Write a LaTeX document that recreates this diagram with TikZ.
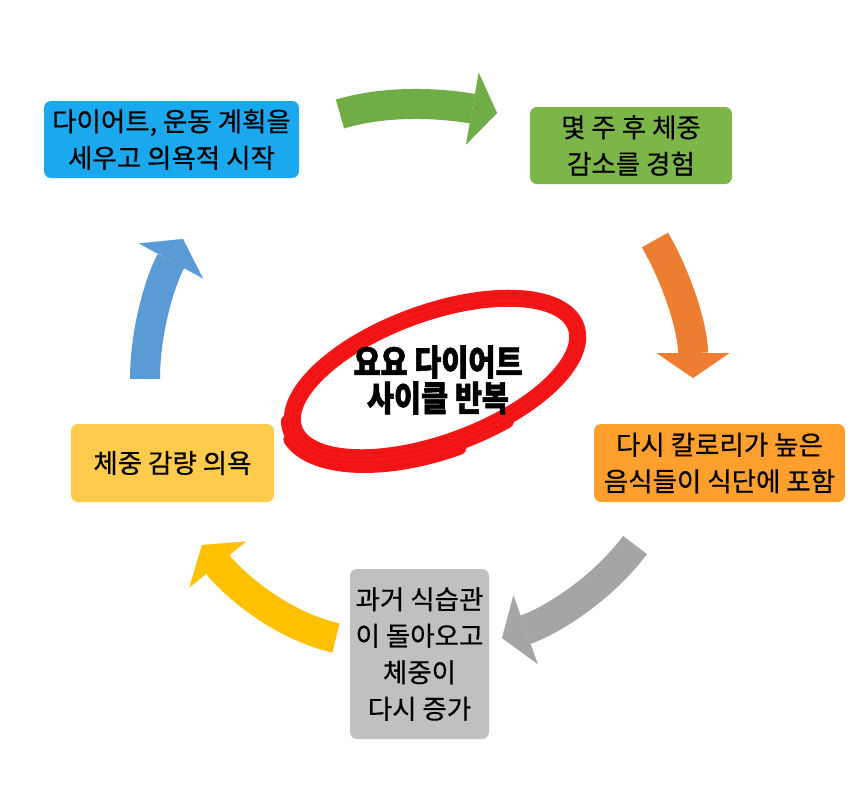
\documentclass[tikz,border=0pt]{standalone}
\usepackage{fontspec}
\setmainfont{Noto Sans CJK KR}[FakeBold=0.5]
\newfontfamily\titlefont{Noto Sans CJK KR}[FakeStretch=0.84, BoldFeatures={FakeBold=1.6}]
\usetikzlibrary{arrows.meta}
\definecolor{boxblue}{HTML}{1AA8EE}
\definecolor{boxgreen}{HTML}{7CB548}
\definecolor{boxorange}{HTML}{FFA02E}
\definecolor{boxyellow}{HTML}{FFCB4C}
\definecolor{boxgray}{HTML}{C0C0C0}
\definecolor{arrgreen}{HTML}{70AD47}
\definecolor{arrorange}{HTML}{ED7D31}
\definecolor{arrgray}{HTML}{A5A5A5}
\definecolor{arryellow}{HTML}{FFC000}
\definecolor{arrblue}{HTML}{5B9BD5}
\definecolor{brushred}{HTML}{F51717}
\definecolor{brushdark}{HTML}{E00E0E}
\tikzset{
  stepbox/.style={rounded corners=7pt, inner sep=0pt, align=center,
    font=\fontsize{26.5}{36.5}\selectfont, text=black},
  cyclearrow/.style={line width=30pt,
    -{Triangle[length=25pt,width=73pt,line width=0.1pt]}},
  brush/.style={draw=brushred, line cap=round},
  streak/.style={draw=brushdark, opacity=0.5, line width=1.2pt, line cap=round},
}
\begin{document}
\begin{tikzpicture}[x=1pt,y=-1pt]
\useasboundingbox (0,0) rectangle (866,788);
\fill[white] (0,0) rectangle (866,788);

% curved arrows
\coordinate (gA) at (340,114); \coordinate (gB) at (390,99);
\coordinate (gC) at (446,104); \coordinate (gD) at (497,113);
\draw[cyclearrow, arrgreen] (gA) .. controls (gB) and (gC) .. (gD);

\coordinate (oA) at (655,240); \coordinate (oB) at (679,282);
\coordinate (oC) at (693,330); \coordinate (oD) at (693,378);
\draw[cyclearrow, arrorange] (oA) .. controls (oB) and (oC) .. (oD);

\coordinate (rA) at (635,545); \coordinate (rB) at (603,588);
\coordinate (rC) at (553,620); \coordinate (rD) at (502,638);
\draw[cyclearrow, arrgray] (rA) .. controls (rB) and (rC) .. (rD);

\coordinate (yA) at (336,638); \coordinate (yB) at (283,626);
\coordinate (yC) at (236,587); \coordinate (yD) at (202,545);
\draw[cyclearrow, arryellow] (yA) .. controls (yB) and (yC) .. (yD);

\coordinate (bA) at (145,379); \coordinate (bB) at (145,331);
\coordinate (bC) at (160,281); \coordinate (bD) at (183,239);
\draw[cyclearrow, arrblue] (bA) .. controls (bB) and (bC) .. (bD);

% boxes
\node[stepbox, fill=boxblue, minimum width=255pt, minimum height=77pt] (plan) at (171.5,139.5)
  {다이어트, 운동 계획을\\세우고 의욕적 시작};
\node[stepbox, fill=boxgreen, minimum width=202pt, minimum height=77pt] (loss) at (631,145.5)
  {몇 주 후 체중\\감소를 경험};
\node[stepbox, fill=boxorange, minimum width=251pt, minimum height=78pt] (food) at (719.5,463)
  {다시 칼로리가 높은\\음식들이 식단에 포함};
\node[stepbox, fill=boxgray, minimum width=139pt, minimum height=170pt] (gain) at (419.5,654)
  {과거 식습관\\이 돌아오고\\체중이\\다시 증가};
\node[stepbox, fill=boxyellow, minimum width=203pt, minimum height=78pt] (will) at (172.5,463)
  {체중 감량 의욕};

% red brush ellipse
\begin{scope}[shift={(435,378)}, rotate=20]
  \draw[brush, line width=17pt] (0,0) ellipse [x radius=150pt, y radius=65pt];
  \draw[brush, line width=13pt] (172:155pt and 70pt) arc [start angle=172, end angle=290, x radius=155pt, y radius=70pt];
  \draw[brush, line width=10pt] (186:160pt and 76pt) arc [start angle=186, end angle=270, x radius=160pt, y radius=76pt];
  \draw[streak] (0,0) ellipse [x radius=145pt, y radius=60pt];
  \draw[streak] (0,0) ellipse [x radius=150pt, y radius=65pt];
  \draw[streak] (0,0) ellipse [x radius=155pt, y radius=70pt];
  \draw[streak] (182:161pt and 77pt) arc [start angle=182, end angle=272, x radius=161pt, y radius=77pt];
\end{scope}

\node[inner sep=0pt, align=center, font=\titlefont\bfseries\fontsize{35}{36}\selectfont] (title) at (438,380)
  {요요 다이어트\\사이클 반복};
\end{tikzpicture}
\end{document}
